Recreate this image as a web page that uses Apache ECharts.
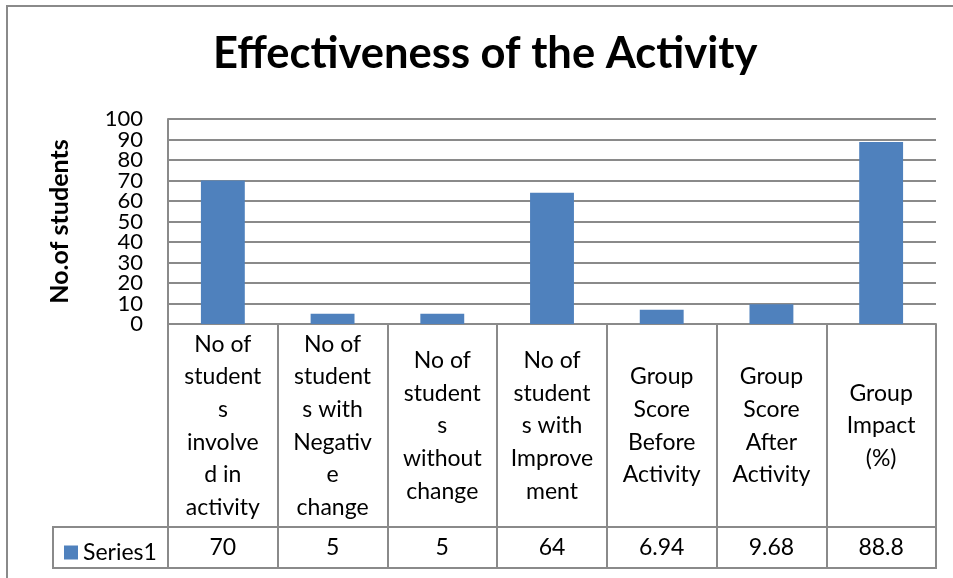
<!DOCTYPE html>
<html>
<head>
<meta charset="utf-8">
<script src="https://cdn.jsdelivr.net/npm/echarts@6/dist/echarts.min.js"></script>
<style>
html,body{margin:0;padding:0;background:#fff;}
#chart{width:953px;height:578px;}
</style>
</head>
<body>
<div id="chart"></div>
<script>
const chartTitle = 'Effectiveness of the Activity';
const yAxisName = 'No.of students';
const seriesName = 'Series1';
const categories = [
  'No of\nstudent\ns\ninvolve\nd in\nactivity',
  'No of\nstudent\ns with\nNegativ\ne\nchange',
  'No of\nstudent\ns\nwithout\nchange',
  'No of\nstudent\ns with\nImprove\nment',
  'Group\nScore\nBefore\nActivity',
  'Group\nScore\nAfter\nActivity',
  'Group\nImpact\n(%)'
];
const values = [70, 5, 5, 64, 6.94, 9.68, 88.8];
const yTicks = [0, 10, 20, 30, 40, 50, 60, 70, 80, 90, 100];

const FONT = 'Lato, Carlito, "Liberation Sans", sans-serif';
const GRID_COLOR = '#8a8a8a';
const BAR_COLOR = '#4f81bd';

const chart = echarts.init(document.getElementById('chart'), null, {renderer: 'canvas'});

const option = {
  backgroundColor: '#ffffff',
  animation: false,
  title: {
    text: chartTitle,
    left: 213,
    top: 32,
    padding: 0,
    textStyle: {fontFamily: FONT, fontWeight: 'bold', fontSize: 43.5, color: '#000'}
  },
  legend: {
    data: [seriesName],
    left: 59,
    top: 536,
    icon: 'rect',
    itemWidth: 14,
    itemHeight: 14,
    itemGap: 0,
    textStyle: {fontFamily: FONT, fontSize: 23, color: '#000'},
    selectedMode: false
  },
  grid: {left: 168, right: 17, top: 119, bottom: 254, containLabel: false},
  xAxis: [
    {
      type: 'category',
      data: categories,
      position: 'bottom',
      axisLine: {show: true, lineStyle: {color: GRID_COLOR, width: 2}},
      axisTick: {show: true, interval: 0, length: 244, alignWithLabel: false, lineStyle: {color: GRID_COLOR, width: 2}},
      axisLabel: {
        interval: 0, margin: 102, verticalAlign: 'middle', align: 'center', hideOverlap: false,
        fontFamily: FONT, fontSize: 23, lineHeight: 32.7, color: '#000'
      },
      splitLine: {show: false}
    },
    {
      type: 'category',
      data: values.map(v => String(v)),
      position: 'bottom',
      axisLine: {show: false},
      axisTick: {show: false},
      axisLabel: {
        interval: 0, margin: 224, verticalAlign: 'middle', align: 'center', hideOverlap: false,
        fontFamily: FONT, fontSize: 23, color: '#000'
      },
      splitLine: {show: false}
    }
  ],
  yAxis: [
    {
      type: 'value',
      min: yTicks[0],
      max: yTicks[yTicks.length - 1],
      interval: 10,
      name: yAxisName,
      nameLocation: 'middle',
      nameRotate: 90,
      nameGap: 96,
      nameTextStyle: {fontFamily: FONT, fontWeight: 'bold', fontSize: 25, color: '#000'},
      axisLine: {show: true, lineStyle: {color: GRID_COLOR, width: 2}},
      axisTick: {show: false},
      axisLabel: {show: false},
      splitLine: {show: true, lineStyle: {color: GRID_COLOR, width: 2}}
    },
    {
      type: 'category',
      data: yTicks.map(v => String(v)),
      boundaryGap: false,
      position: 'left',
      axisLine: {show: false},
      axisTick: {show: false},
      splitLine: {show: false},
      axisLabel: {
        interval: 0, margin: 25, fontFamily: FONT, fontSize: 22, color: '#000',
        hideOverlap: false
      }
    }
  ],
  series: [{
    name: seriesName,
    type: 'bar',
    xAxisIndex: 0,
    yAxisIndex: 0,
    data: values,
    barCategoryGap: '60%',
    itemStyle: {color: BAR_COLOR},
    emphasis: {disabled: true}
  }],
  graphic: [
    {type: 'rect', shape: {x: 7, y: 6, width: 1000, height: 700}, style: {fill: 'none', stroke: GRID_COLOR, lineWidth: 2}, silent: true, z: -1},
    {type: 'line', shape: {x1: 53, y1: 527, x2: 936, y2: 527}, style: {stroke: GRID_COLOR, lineWidth: 2}, silent: true},
    {type: 'line', shape: {x1: 53, y1: 568, x2: 937, y2: 568}, style: {stroke: GRID_COLOR, lineWidth: 2}, silent: true},
    {type: 'line', shape: {x1: 53, y1: 526, x2: 53, y2: 569}, style: {stroke: GRID_COLOR, lineWidth: 2}, silent: true}
  ]
};
chart.setOption(option);
</script>
</body>
</html>
